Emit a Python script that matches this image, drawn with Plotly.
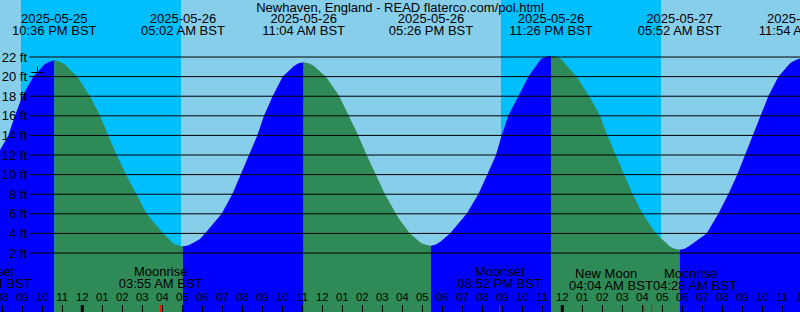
import pandas as pd
import plotly.graph_objects as go

STATION = "Newhaven, England - READ flaterco.com/pol.html"

# Tide curve (local time BST, height in feet)
curve_times = [
    "2025-05-25 19:53", "2025-05-25 20:18", "2025-05-25 20:38", "2025-05-25 21:00",
    "2025-05-25 21:33", "2025-05-25 22:06", "2025-05-25 22:21", "2025-05-25 22:36",
    "2025-05-25 22:51", "2025-05-25 23:06", "2025-05-25 23:45", "2025-05-26 00:23",
    "2025-05-26 00:53", "2025-05-26 01:18", "2025-05-26 01:43", "2025-05-26 02:11",
    "2025-05-26 02:41", "2025-05-26 03:13", "2025-05-26 04:03", "2025-05-26 04:32",
    "2025-05-26 04:47", "2025-05-26 05:02", "2025-05-26 05:17", "2025-05-26 05:32",
    "2025-05-26 05:53", "2025-05-26 06:08", "2025-05-26 06:58", "2025-05-26 07:30",
    "2025-05-26 07:55", "2025-05-26 08:21", "2025-05-26 08:45", "2025-05-26 09:05",
    "2025-05-26 09:31", "2025-05-26 10:01", "2025-05-26 10:34", "2025-05-26 10:49",
    "2025-05-26 11:04", "2025-05-26 11:19", "2025-05-26 11:34", "2025-05-26 12:11",
    "2025-05-26 12:51", "2025-05-26 13:20", "2025-05-26 13:48", "2025-05-26 14:13",
    "2025-05-26 14:40", "2025-05-26 15:08", "2025-05-26 15:41", "2025-05-26 15:53",
    "2025-05-26 16:23", "2025-05-26 16:56", "2025-05-26 17:11", "2025-05-26 17:26",
    "2025-05-26 17:41", "2025-05-26 17:56", "2025-05-26 18:23", "2025-05-26 19:13",
    "2025-05-26 19:48", "2025-05-26 20:15", "2025-05-26 20:41", "2025-05-26 20:58",
    "2025-05-26 21:18", "2025-05-26 21:48", "2025-05-26 22:18", "2025-05-26 22:56",
    "2025-05-26 23:11", "2025-05-26 23:26", "2025-05-26 23:41", "2025-05-26 23:56",
    "2025-05-27 00:43", "2025-05-27 01:21", "2025-05-27 01:53", "2025-05-27 02:15",
    "2025-05-27 02:41", "2025-05-27 03:05", "2025-05-27 03:31", "2025-05-27 04:01",
    "2025-05-27 04:41", "2025-05-27 05:22", "2025-05-27 05:37", "2025-05-27 05:52",
    "2025-05-27 06:07", "2025-05-27 06:22", "2025-05-27 07:13", "2025-05-27 07:48",
    "2025-05-27 08:18", "2025-05-27 08:45", "2025-05-27 09:08", "2025-05-27 09:33",
    "2025-05-27 09:55", "2025-05-27 10:18", "2025-05-27 10:48", "2025-05-27 11:24",
    "2025-05-27 11:39", "2025-05-27 11:54",
]
curve_ft = [
    12.5, 14, 16, 18,
    20, 21.25, 21.52, 21.66,
    21.55, 21.3, 20, 18,
    16, 14, 12, 10,
    8, 6, 4, 3.0,
    2.76, 2.68, 2.76, 3.02,
    3.43, 4, 6, 8,
    10, 12, 14, 16,
    18, 20, 21.06, 21.36,
    21.46, 21.36, 21.12, 20,
    18, 16, 14, 12,
    10, 8, 6, 5.35,
    4, 3.02, 2.85, 2.75,
    2.88, 3.19, 4, 6,
    8, 10, 12, 14,
    16, 18, 20, 21.8,
    22.04, 22.14, 22.04, 21.8,
    20, 18, 16, 14,
    12, 10, 8, 6,
    4, 2.68, 2.44, 2.34,
    2.44, 2.75, 4, 6,
    8, 10, 12, 14,
    16, 18, 20, 21.4,
    21.66, 21.85,
]

# High / low tide events
tide_times = [
    "2025-05-25 22:36", "2025-05-26 05:02", "2025-05-26 11:04", "2025-05-26 17:26",
    "2025-05-26 23:26", "2025-05-27 05:52", "2025-05-27 11:54",
]

# Sun: night spans
sunset_times = ["2025-05-25 20:56", "2025-05-26 20:56"]
sunrise_times = ["2025-05-26 04:56", "2025-05-27 04:56"]

# Moon events
moon_names = ["Moonset", "Moonrise", "Moonset", "New Moon", "Moonrise"]
moon_times = ["2025-05-25 19:21", "2025-05-26 03:55", "2025-05-26 20:52",
              "2025-05-27 04:04", "2025-05-27 04:28"]
moon_name_shift = [0, 0, 0, -38, 39]
moon_time_shift = [0, 0, 0, -33, 43]

level_ft = [2, 4, 6, 8, 10, 12, 14, 16, 18, 20, 22]
mark_time = ["2025-05-25 21:45:36"]
mark_ft = [20.42]

X_RANGE = ["2025-05-25 19:53:06", "2025-05-27 11:53:06"]
Y_RANGE = [-4.02, 27.82]

DAY = "#87CEEB"
NIGHT = "#00BFFF"
FLOOD = "#0000FF"
EBB = "#2E8B57"
FONT = "Liberation Sans"

ct = pd.to_datetime(curve_times)
tt = pd.to_datetime(tide_times)
mt = pd.to_datetime(moon_times)
x0, x1 = pd.to_datetime(X_RANGE)
hours = pd.date_range("2025-05-25 20:00", "2025-05-27 12:00", freq="h")
in_hours = [h for h in hours if x0 <= h <= x1]
midnights = [h for h in in_hours if h.hour == 0]

fig = go.Figure()

# tide fill segments, split at high/low tides
tset = set(tt)
bounds = sorted(set([0] + [i for i, t in enumerate(ct) if t in tset] + [len(ct) - 1]))
for a, b in zip(bounds[:-1], bounds[1:]):
    xs = list(ct[a:b + 1])
    ys = curve_ft[a:b + 1]
    color = FLOOD if ys[-1] > ys[0] else EBB
    fig.add_trace(go.Scatter(x=[xs[0], xs[-1]], y=[Y_RANGE[0] - 6] * 2, mode="lines",
                             line=dict(width=0), hoverinfo="skip", showlegend=False))
    fig.add_trace(go.Scatter(x=xs, y=ys, mode="lines", fill="tonexty", fillcolor=color,
                             line=dict(width=0, shape="linear", color=color),
                             hoverinfo="skip", showlegend=False))

# mark
fig.add_trace(go.Scatter(x=pd.to_datetime(mark_time), y=mark_ft, mode="markers",
                         marker=dict(symbol="cross-thin", size=9, line=dict(width=1, color="black")),
                         showlegend=False, hoverinfo="skip"))

txt = dict(family=FONT, size=13, color="black")
# tide labels at top
fig.add_trace(go.Scatter(x=tt, y=[20] * len(tt), yaxis="y2", mode="text",
                         text=[t.strftime("%Y-%m-%d") for t in tt], textfont=txt,
                         textposition="middle center", showlegend=False, hoverinfo="skip"))
fig.add_trace(go.Scatter(x=tt, y=[32] * len(tt), yaxis="y2", mode="text",
                         text=[t.strftime("%I:%M %p BST") for t in tt], textfont=txt,
                         textposition="middle center", showlegend=False, hoverinfo="skip"))

# moon labels
annotations = []
plain = [i for i in range(len(mt)) if moon_name_shift[i] == 0 and moon_time_shift[i] == 0]
fig.add_trace(go.Scatter(x=[mt[i] for i in plain], y=[273] * len(plain), yaxis="y2", mode="text",
                         text=[moon_names[i] for i in plain], textfont=txt,
                         textposition="middle center", showlegend=False, hoverinfo="skip"))
fig.add_trace(go.Scatter(x=[mt[i] for i in plain], y=[285] * len(plain), yaxis="y2", mode="text",
                         text=[mt[i].strftime("%I:%M %p BST") for i in plain], textfont=txt,
                         textposition="middle center", showlegend=False, hoverinfo="skip"))
for i in range(len(mt)):
    if i in plain:
        continue
    annotations.append(dict(x=mt[i], y=273, xref="x", yref="y2", text=moon_names[i],
                            showarrow=False, xshift=moon_name_shift[i], font=txt,
                            xanchor="center", yanchor="middle"))
    annotations.append(dict(x=mt[i], y=285, xref="x", yref="y2",
                            text=mt[i].strftime("%I:%M %p BST"),
                            showarrow=False, xshift=moon_time_shift[i], font=txt,
                            xanchor="center", yanchor="middle"))

# hour labels
fig.add_trace(go.Scatter(x=hours, y=[298] * len(hours), yaxis="y2", mode="text",
                         text=[h.strftime("%I") for h in hours],
                         textfont=dict(family=FONT, size=11.5, color="black"),
                         textposition="middle center", showlegend=False, hoverinfo="skip"))

shapes = []
for s, r in zip(sunset_times, sunrise_times):
    shapes.append(dict(type="rect", xref="x", yref="paper", x0=s, x1=r, y0=0, y1=1,
                       fillcolor=NIGHT, line=dict(width=0), layer="below"))
for lv in level_ft:
    shapes.append(dict(type="line", xref="paper", yref="y", x0=29 / 800, x1=1, y0=lv, y1=lv,
                       line=dict(color="black", width=1), layer="above"))
for m in midnights:
    shapes.append(dict(type="line", xref="x", yref="y2", x0=m, x1=m, y0=305, y1=312,
                       line=dict(color="black", width=3), layer="above"))
for t in mt:
    if x0 <= t <= x1:
        shapes.append(dict(type="line", xref="x", yref="y2", x0=t, x1=t, y0=305, y1=312,
                           line=dict(color="red", width=1), layer="above"))

fig.update_layout(
    width=800, height=312, margin=dict(l=0, r=0, t=0, b=0),
    paper_bgcolor=DAY, plot_bgcolor=DAY,
    font=txt,
    title=dict(text=STATION, x=0.5, xanchor="center", y=1 - 7 / 312, yanchor="middle",
               yref="container", font=txt),
    xaxis=dict(type="date", range=X_RANGE, tickvals=in_hours, ticks="inside", ticklen=7,
               tickwidth=1, tickcolor="black", showticklabels=False, showgrid=False,
               zeroline=False, showline=False),
    yaxis=dict(range=Y_RANGE, tickvals=level_ft, ticktext=[f"{v} ft" for v in level_ft],
               ticks="", showgrid=False, zeroline=False, showline=False,
               anchor="free", position=27 / 800, side="left", ticklabelstandoff=0,
               tickfont=txt),
    yaxis2=dict(overlaying="y", range=[312, 0], visible=False),
    annotations=annotations,
    shapes=shapes,
    showlegend=False,
)

fig.write_html("out.html")
